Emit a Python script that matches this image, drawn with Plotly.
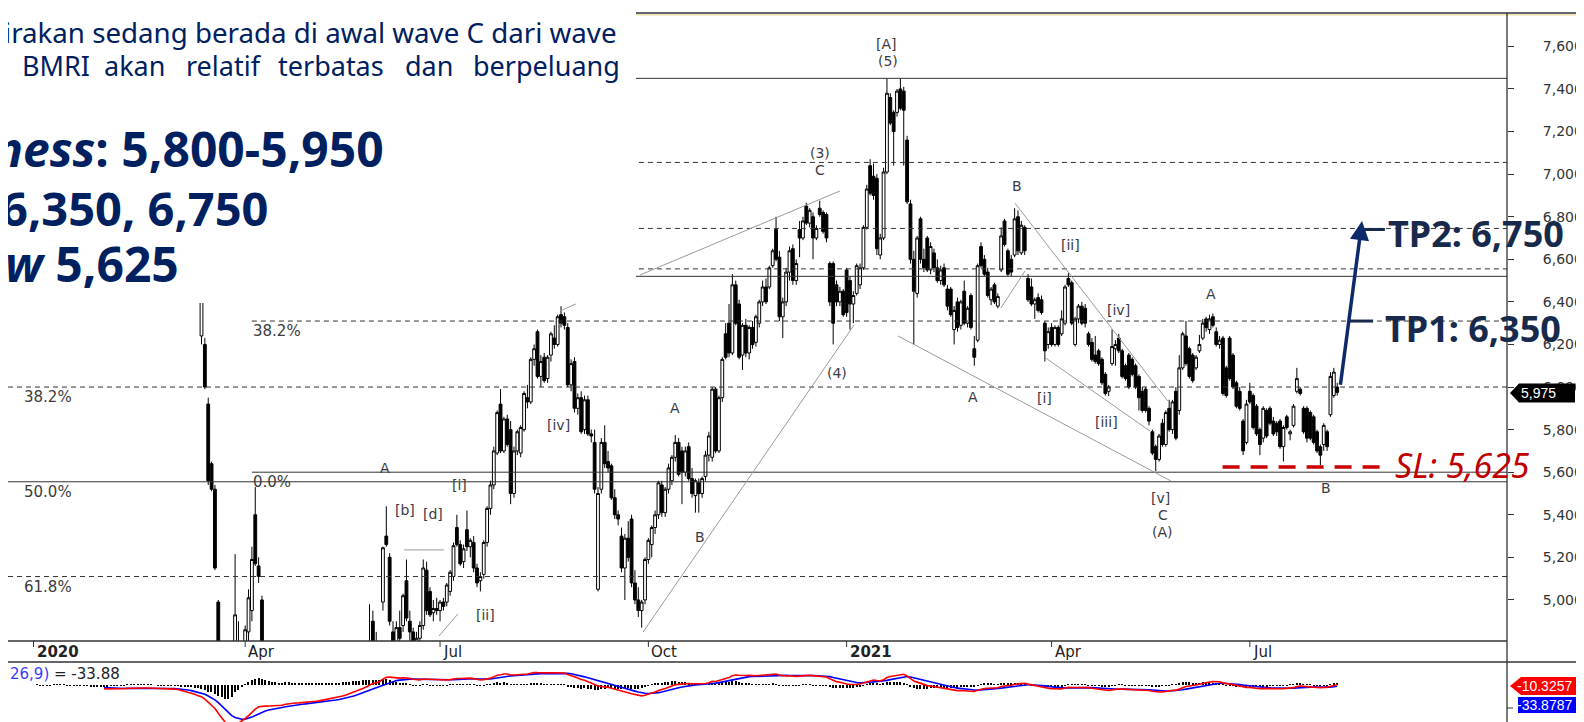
import plotly.graph_objects as go
import pandas as pd

# ---------------- DATA: BMRI daily bars (open, high, low, close), one list per month ----------------
jan_2020 = [(7675,7725,7650,7700),(7700,7750,7650,7725),(7725,7750,7625,7650),(7650,7700,7600,7675),
            (7675,7700,7625,7650),(7650,7725,7625,7700),(7700,7750,7675,7725),(7725,7775,7700,7750),
            (7750,7775,7675,7700),(7700,7725,7650,7675),(7675,7700,7600,7625),(7625,7675,7600,7650),
            (7650,7675,7575,7600),(7600,7625,7550,7575),(7575,7625,7550,7600),(7600,7600,7525,7550),
            (7550,7575,7475,7500),(7500,7525,7450,7475),(7475,7500,7425,7450),(7450,7475,7375,7400),
            (7400,7425,7350,7375)]
feb_2020 = [(7375,7425,7350,7375),(7375,7425,7350,7400),(7400,7450,7375,7425),(7425,7450,7375,7400),
            (7400,7425,7350,7375),(7375,7425,7350,7400),(7400,7475,7375,7450),(7450,7475,7400,7425),
            (7425,7450,7375,7400),(7400,7425,7350,7375),(7375,7400,7325,7350),(7350,7400,7325,7375),
            (7375,7425,7350,7400),(7400,7425,7325,7350),(7350,7375,7300,7325),(7325,7350,7275,7300),
            (7300,7325,7225,7250),(7250,7300,7225,7275),(7275,7300,7225,7250),(7250,7275,7200,7225)]
mar_2020 = [(7225,7250,7125,7150),(7150,7225,7125,7200),(7200,7225,7075,7100),(7100,7125,6925,6950),
            (6950,6975,6875,6900),(6900,6925,6775,6800),(6800,6825,6675,6700),(6700,6725,6575,6600),
            (6600,6625,6425,6450),(6240,6460,6200,6420),(6200,6230,5990,6000),(5920,5950,5540,5560),
            (5640,5650,5510,5520),(5520,5540,5140,5150),(4990,5000,4500,4550),(4500,4550,4150,4200),
            (4200,4300,3800,3850),(3900,4100,3700,3720),(3750,4000,3650,3950),(4200,5215,4150,4930),
            (4800,4900,4500,4600),(4550,4700,4450,4650)]
apr_2020 = [(4600,4880,4550,4860),(4850,5050,4800,5010),(4950,5250,4900,5190),(5400,5530,5160,5170),
            (5160,5200,5080,5110),(5000,5020,4700,4750),(4700,4750,4500,4550),(4550,4600,4450,4500),
            (4500,4575,4400,4450),(4450,4500,4350,4400),(4400,4450,4300,4350),(4350,4450,4325,4420),
            (4420,4500,4400,4480),(4480,4500,4375,4400),(4400,4425,4275,4300),(4300,4325,4225,4250),
            (4250,4275,4175,4200),(4200,4225,4125,4150),(4150,4175,4075,4100),(4100,4150,4050,4125)]
may_2020 = [(4125,4150,4075,4100),(4100,4125,4050,4075),(4075,4100,4025,4050),(4050,4125,4025,4100),
            (4100,4125,4050,4075),(4075,4100,4000,4025),(4025,4050,3975,4000),(4000,4075,3975,4050),
            (4050,4125,4025,4100),(4100,4175,4075,4150),(4150,4225,4125,4200),(4200,4275,4175,4250),
            (4250,4325,4225,4300),(4300,4400,4275,4375),(4375,4450,4350,4425),(4425,4525,4400,4500),
            (4500,4625,4475,4600)]
jun_2020 = [(4650,4980,4600,4750),(4900,4950,4700,4780),(4780,4850,4650,4700),(4700,4800,4600,4780),
            (4990,5250,4950,5245),(5300,5440,5250,5260),(5200,5220,4880,4900),(4850,4900,4750,4800),
            (4760,4900,4700,4870),(4870,4950,4780,4820),(4880,5030,4850,5020),(5090,5190,4900,4915),
            (4900,4950,4800,4850),(4850,4870,4700,4750),(4750,4850,4700,4820),(4820,4900,4780,4880),
            (4880,5190,4860,5150),(5140,5180,4930,4950),(5040,5060,4920,4930),(4940,5000,4900,4960),
            (4960,5010,4930,4950)]
jul_2020 = [(4950,5000,4900,4990),(4990,5010,4950,4970),(4990,5080,4970,5070),(5040,5140,5020,5130),
            (5110,5270,5090,5255),(5340,5400,5250,5260),(5260,5280,5160,5170),(5180,5260,5150,5240),
            (5330,5420,5230,5250),(5250,5290,5200,5280),(5270,5300,5130,5150),(5150,5170,5060,5080),
            (5090,5130,5040,5110),(5120,5280,5100,5270),(5270,5440,5250,5430),(5430,5560,5400,5540),
            (5540,5720,5520,5700),(5690,5890,5680,5880),(5920,5990,5690,5700),(5700,5860,5690,5850),
            (5850,5870,5720,5730),(5800,5840,5450,5500)]
aug_2020 = [(5500,5720,5480,5700),(5700,5800,5680,5790),(5690,5820,5670,5810),(5800,5980,5790,5970),
            (5950,6010,5900,5930),(5930,6140,5920,6130),(6130,6200,6100,6180),(6260,6270,6040,6050),
            (6050,6150,6000,6120),(6140,6160,6020,6030),(6040,6150,6020,6140),(6150,6260,6120,6250),
            (6230,6290,6180,6200),(6200,6340,6190,6330),(6340,6380,6280,6300),(6330,6350,6270,6290),
            (6280,6300,6000,6010),(6010,6130,5980,6110),(6120,6140,5880,5900)]
sep_2020 = [(5900,5970,5870,5950),(5950,5980,5780,5790),(5800,5960,5780,5940),(5940,5960,5770,5780),
            (5780,5800,5740,5770),(5740,5800,5500,5520),(5050,5530,5040,5500),(5520,5760,5500,5740),
            (5740,5820,5620,5640),(5650,5700,5600,5620),(5630,5640,5470,5480),(5480,5520,5380,5400),
            (5400,5420,5350,5380),(5300,5340,5130,5150),(5150,5310,5000,5290),(5290,5370,5180,5200),
            (5380,5400,5060,5080),(5080,5140,4980,5000),(5000,5060,4920,4950),(4950,5000,4870,4990),
            (5000,5200,4980,5190)]
oct_2020 = [(5190,5290,5170,5280),(5260,5350,5200,5340),(5340,5420,5310,5400),(5400,5560,5380,5550),
            (5540,5560,5390,5410),(5410,5530,5390,5520),(5520,5640,5500,5620),(5560,5680,5540,5670),
            (5670,5775,5650,5740),(5740,5760,5580,5590),(5700,5720,5450,5600),(5600,5720,5580,5700),
            (5720,5740,5560,5570),(5570,5620,5480,5500),(5490,5570,5410,5560),(5550,5570,5410,5500),
            (5500,5580,5480,5570),(5580,5700,5560,5680),(5680,5790,5650,5770),(5670,6000,5650,5990),
            (5990,6000,5690,5700)]
nov_2020 = [(5700,5960,5690,5950),(5950,6140,5930,6130),(6250,6300,6130,6140),(6300,6390,6140,6160),
            (6160,6530,6150,6480),(6480,6500,6290,6300),(6390,6410,6130,6140),(6150,6300,6080,6290),
            (6290,6320,6140,6160),(6160,6290,6130,6280),(6280,6310,6180,6200),(6210,6340,6190,6330),
            (6300,6410,6280,6400),(6400,6500,6380,6470),(6470,6510,6390,6400),(6470,6570,6460,6560),
            (6570,6650,6560,6640),(6740,6800,6590,6600),(6610,6640,6310,6330),(6330,6420,6230,6400),
            (6400,6560,6380,6540)]
dec_2020 = [(6540,6660,6500,6640),(6650,6670,6480,6500),(6500,6600,6480,6580),(6740,6780,6610,6700),
            (6700,6800,6690,6780),(6850,6865,6760,6770),(6770,6840,6750,6830),(6800,6820,6600,6700),
            (6700,6760,6690,6745),(6840,6875,6800,6810),(6820,6830,6720,6730),(6810,6820,6680,6700),
            (6580,6590,6380,6400),(6580,6590,6200,6300),(6480,6500,6380,6400),(6400,6470,6380,6450),
            (6450,6460,6330,6340)]
jan_2021 = [(6550,6560,6330,6350),(6500,6520,6270,6390),(6390,6450,6300,6430),(6440,6580,6430,6570),
            (6480,6580,6460,6560),(6560,6760,6550,6750),(6750,6950,6740,6930),(7040,7070,6900,6910),
            (6990,7050,6880,6900),(6980,7000,6620,6650),(6620,6720,6600,6700),(6700,7030,6690,7010),
            (7010,7450,7000,7380),(7360,7380,7230,7240),(7290,7300,7040,7200),(7290,7400,7270,7390),
            (7400,7450,7300,7310),(7390,7410,7040,7300),(7160,7180,6860,6870),(6860,6880,6580,6600)]
feb_2021 = [(6600,6640,6200,6450),(6440,6710,6420,6700),(6790,6800,6580,6600),(6600,6650,6540,6560),
            (6700,6710,6540,6550),(6550,6680,6530,6660),(6630,6650,6540,6560),(6560,6600,6490,6500),
            (6500,6570,6480,6550),(6560,6580,6470,6480),(6460,6480,6360,6380),(6460,6470,6330,6340),
            (6270,6380,6200,6360),(6400,6420,6260,6280),(6290,6410,6270,6400),(6450,6500,6290,6300),
            (6300,6380,6280,6370),(6430,6440,6270,6280),(6180,6240,6100,6140)]
mar_2021 = [(6220,6580,6210,6570),(6660,6680,6560,6570),(6600,6620,6520,6530),(6540,6560,6420,6430),
            (6410,6470,6385,6460),(6480,6490,6390,6400),(6380,6440,6370,6425),(6550,6750,6540,6710),
            (6780,6790,6660,6670),(6640,6650,6520,6530),(6600,6620,6520,6540),(6620,6840,6610,6790),
            (6800,6830,6620,6640),(6630,6780,6620,6760),(6750,6760,6620,6640),(6510,6530,6400,6410),
            (6470,6510,6380,6390),(6390,6420,6320,6410),(6420,6440,6350,6360),(6410,6430,6340,6350),
            (6300,6310,6120,6170),(6200,6280,6180,6260)]
apr_2021 = [(6280,6300,6190,6200),(6200,6290,6190,6280),(6280,6290,6190,6200),(6250,6360,6240,6320),
            (6300,6480,6290,6470),(6510,6535,6470,6480),(6490,6500,6290,6300),(6200,6330,6190,6320),
            (6320,6390,6300,6380),(6380,6400,6290,6300),(6370,6390,6280,6300),(6250,6260,6190,6200),
            (6210,6230,6120,6130),(6150,6240,6110,6120),(6170,6180,6100,6110),(6130,6140,6010,6020),
            (6060,6070,5960,5970),(5980,6010,5958,6000),(6110,6270,6100,6190),(6180,6220,6100,6200),
            (6230,6250,6160,6170)]
may_2021 = [(6170,6180,6040,6050),(6100,6110,6030,6040),(6150,6160,5990,6000),(6130,6140,6050,6060),
            (6100,6110,5990,6000),(6050,6060,5890,5950),(5980,6000,5880,5890),(5990,6000,5880,5890),
            (5900,5910,5820,5840),(5790,5800,5680,5690),(5720,5730,5605,5660),(5660,5780,5650,5770),
            (5830,5850,5720,5730),(5730,5890,5720,5880),(5900,5940,5790,5800),(5800,5940,5780,5930),
            (5980,6000,5750,5760)]
jun_2021 = [(5890,6150,5870,6090),(6090,6260,6080,6250),(6240,6310,6100,6110),(6180,6190,6040,6050),
            (6150,6160,6020,6030),(6090,6150,6080,6140),(6170,6245,6160,6200),(6230,6320,6220,6300),
            (6320,6330,6260,6280),(6270,6340,6250,6320),(6330,6345,6280,6290),(6260,6280,6190,6200),
            (6200,6240,6180,6220),(6230,6240,5960,5970),(6090,6100,5950,5960),(6230,6240,6030,6040),
            (6150,6160,5990,6000),(6020,6030,5900,5910),(5980,6000,5890,5900),(5840,5850,5680,5700),
            (5740,5940,5730,5920)]
jul_2021 = [(5980,6020,5920,5930),(5960,5970,5800,5810),(5910,5920,5770,5780),(5800,5810,5680,5730),
            (5760,5910,5740,5900),(5890,5900,5760,5770),(5900,5910,5820,5830),(5840,5860,5770,5780),
            (5830,5840,5770,5790),(5840,5850,5710,5720),(5720,5820,5650,5810),(5860,5870,5800,5810),
            (5780,5800,5750,5790),(5820,5920,5810,5910),(5980,6090,5970,6040),(5990,6000,5960,5970),
            (5900,5910,5780,5790),(5900,5910,5740,5760),(5880,5890,5750,5760),(5860,5870,5730,5740),
            (5790,5800,5690,5700)]
aug_2021 = [(5720,5730,5633,5680),(5730,5830,5700,5820),(5790,5800,5700,5720),(5870,6070,5860,6050),
            (5960,6090,5950,6070),(6000,6020,5960,5975)]

monthly_bars = [jan_2020, feb_2020, mar_2020, apr_2020, may_2020, jun_2020, jul_2020, aug_2020,
                sep_2020, oct_2020, nov_2020, dec_2020, jan_2021, feb_2021, mar_2021, apr_2021,
                may_2021, jun_2021, jul_2021, aug_2021]
tick_labels = ["2020", "Apr", "Jul", "Oct", "2021", "Apr", "Jul"]
tick_months = [0, 3, 6, 9, 12, 15, 18]          # month numbers (in monthly_bars) that get a date tick

# Fibonacci / horizontal levels
fib_anchor_levels = [7450, 7055, 6745, 6555, 6520, 6310, 5600]   # drawn from the Apr-2020 high
fib_left_levels = [6000, 5555, 5110]                             # drawn across the whole chart
solid_levels = [7450, 6520, 5600, 5555]
fib_anchor_labels = {6310: "38.2%", 5600: "0.0%"}
fib_left_labels = {6000: "38.2%", 5555: "50.0%", 5110: "61.8%"}
fib_anchor_bar = 65

# Elliott-wave labels: (text, bar index, price)
wave_labels = [("[A]", 254.0, 7611), ("(5)", 254.3, 7531), ("(3)", 234.1, 7099), ("C", 234.1, 7019),
               ("B", 292.7, 6944), ("[ii]", 308.5, 6667), ("[iv]", 322.8, 6362), ("A", 350.4, 6437),
               ("(4)", 239.1, 6066), ("A", 279.6, 5953), ("[i]", 301.0, 5949), ("[iii]", 319.2, 5836),
               ("[v]", 335.5, 5479), ("C", 336.1, 5400), ("(A)", 336.1, 5320), ("B", 384.7, 5526),
               ("A", 190.9, 5902), ("B", 198.4, 5296), ("[iv]", 156.1, 5822), ("A", 104.6, 5620),
               ("[i]", 126.9, 5540), ("[b]", 110.5, 5422), ("[d]", 118.9, 5404), ("[ii]", 134.4, 4929)]

# trend / channel lines: (bar0, price0, bar1, price1)
trend_lines = [(181.4, 4849, 244.2, 6291), (180.5, 6526, 240.0, 6921), (257.3, 6240, 338.5, 5559),
               (292.1, 6864, 337.6, 5934), (301.3, 6136, 332.3, 5793), (287.9, 6371, 295.1, 6545),
               (156.7, 6357, 161.4, 6390), (120.7, 4831, 126.3, 4934), (110.3, 5235, 122.2, 5235)]

tp1, tp2, stop_loss = 6350, 6750, 5625
tp1_mark, tp2_mark = 6310, 6740
arrow_from_price, arrow_to_price = 6004, 6780
last_price_tag = "5,975"
macd_tags = ["-10.3257", "-33.8787"]
macd_caption_value = "-33.88"

# ---------------- derived series ----------------
bars = [b for m in monthly_bars for b in m]
opens = [b[0] for b in bars]
highs = [b[1] for b in bars]
lows = [b[2] for b in bars]
closes = [b[3] for b in bars]
x_idx = list(range(len(bars)))
month_start = []
n = 0
for m in monthly_bars:
    month_start.append(n)
    n += len(m)
tick_pos = [month_start[k] for k in tick_months]

cl = pd.Series(closes, dtype=float)
ema12 = cl.ewm(span=12, adjust=False).mean()
ema26 = cl.ewm(span=26, adjust=False).mean()
macd = ema12 - ema26
signal = macd.ewm(span=9, adjust=False).mean()
hist = macd - signal
START = 21

# ---------------- geometry (pixels) ----------------
W, H = 1584, 722
AXIS_X = 1499
PRICE_TOP, PRICE_BOT, MACD_TOP = 5, 633, 654
BAR0_PX, BAR_PX = 25.5, 3.36
Y7600, PX_UNIT = 38.4, 4.697          # pixel row of 7,600 and price units per pixel

def fx(x):
    return x / AXIS_X

def fy(y):
    return 1 - y / H

x_range = [(0 - BAR0_PX) / BAR_PX, (AXIS_X - BAR0_PX) / BAR_PX]
y_range = [7600 - (PRICE_BOT - Y7600) * PX_UNIT, 7600 + (Y7600 - PRICE_TOP) * PX_UNIT]

mmin = float(min(macd[START:].min(), signal[START:].min()))
u = abs(mmin) / 43.0
zero_px = 677
y2_range = [-(H - zero_px) * u, (zero_px - MACD_TOP) * u]

NAVY = "#002060"
TPNAVY = "#172a4c"
LBL = "#3a3a44"
CHART_FONT = "DejaVu Sans"
TAG_FONT = "Liberation Sans"
TEXT_FONT = "Noto Sans"

fig = go.Figure()
fig.add_trace(go.Candlestick(
    x=x_idx, open=opens, high=highs, low=lows, close=closes,
    increasing=dict(line=dict(color="black", width=1), fillcolor="white"),
    decreasing=dict(line=dict(color="black", width=1), fillcolor="black"),
    whiskerwidth=0, showlegend=False, hoverinfo="skip"))

fig.add_trace(go.Bar(x=x_idx, y=list(hist), width=0.35, marker=dict(color="black", line=dict(width=0)),
                     xaxis="x2", yaxis="y2", showlegend=False, hoverinfo="skip"))
fig.add_trace(go.Scatter(x=x_idx[START:], y=list(signal[START:]), mode="lines",
                         line=dict(color="#0000ff", width=1.6), xaxis="x2", yaxis="y2",
                         showlegend=False, hoverinfo="skip"))
fig.add_trace(go.Scatter(x=x_idx[START:], y=list(macd[START:]), mode="lines",
                         line=dict(color="#ff0000", width=1.6), xaxis="x2", yaxis="y2",
                         showlegend=False, hoverinfo="skip"))

shapes = []
for lv in fib_anchor_levels + fib_left_levels:
    x0 = fib_anchor_bar if lv in fib_anchor_levels else x_range[0]
    dash = "solid" if lv in solid_levels else "5px,4px"
    shapes.append(dict(type="line", xref="x", yref="y", x0=x0, x1=x_range[1], y0=lv, y1=lv,
                       line=dict(color="#333333", width=1, dash=dash)))
for (a0, p0, a1, p1) in trend_lines:
    shapes.append(dict(type="line", xref="x", yref="y", x0=a0, y0=p0, x1=a1, y1=p1,
                       line=dict(color="#9a9a9a", width=1)))

# white text panel covering the top-left of the chart
shapes.append(dict(type="rect", xref="paper", yref="paper", x0=-0.01, x1=fx(628), y0=fy(295), y1=1.01,
                   fillcolor="white", line=dict(width=0), layer="above"))
# frame lines
shapes.append(dict(type="line", xref="paper", yref="paper", x0=fx(628), x1=fx(W), y0=fy(5), y1=fy(5),
                   line=dict(color="#2f3445", width=1.3)))
shapes.append(dict(type="line", xref="paper", yref="paper", x0=fx(628), x1=fx(W), y0=fy(6.8), y1=fy(6.8),
                   line=dict(color="#efe0a6", width=1.4)))
shapes.append(dict(type="line", xref="paper", yref="paper", x0=1, x1=1, y0=fy(5), y1=0,
                   line=dict(color="#222222", width=1.2)))
shapes.append(dict(type="line", xref="paper", yref="paper", x0=0, x1=1, y0=fy(PRICE_BOT), y1=fy(PRICE_BOT),
                   line=dict(color="#333333", width=1.3)))
shapes.append(dict(type="line", xref="paper", yref="paper", x0=0, x1=fx(W), y0=fy(MACD_TOP), y1=fy(MACD_TOP),
                   line=dict(color="#333333", width=1.3)))
shapes.append(dict(type="line", xref="paper", yref="paper", x0=1, x1=fx(AXIS_X + 6), y0=fy(700), y1=fy(700),
                   line=dict(color="#333333", width=1)))
for tp in tick_pos:
    shapes.append(dict(type="line", xref="x", yref="paper", x0=tp, x1=tp, y0=fy(PRICE_BOT), y1=fy(PRICE_BOT + 6),
                       line=dict(color="#333333", width=1)))

last = x_idx[-1]
# stop-loss dashed marker, TP markers
shapes.append(dict(type="line", xref="x", yref="y", x0=last - 34.1, x1=last + 12.7, y0=stop_loss, y1=stop_loss,
                   line=dict(color="#cc0000", width=3.5, dash="17px,11px")))
shapes.append(dict(type="line", xref="x", yref="y", x0=last + 7.1, x1=last + 14.2, y0=tp2_mark, y1=tp2_mark,
                   line=dict(color=TPNAVY, width=3)))
shapes.append(dict(type="line", xref="x", yref="y", x0=last + 3.8, x1=last + 10.7, y0=tp1_mark, y1=tp1_mark,
                   line=dict(color=TPNAVY, width=3)))

def poly(pts):
    return "M " + " L ".join(f"{fx(a):.5f},{fy(b):.5f}" for a, b in pts) + " Z"

shapes.append(dict(type="path", xref="paper", yref="paper",
                   path=poly([(1502, 385), (1511, 375.5), (1567, 375.5), (1567, 394.5), (1511, 394.5)]),
                   fillcolor="black", line=dict(width=0), layer="above"))
shapes.append(dict(type="path", xref="paper", yref="paper",
                   path=poly([(1502, 678), (1513, 669), (1584, 669), (1584, 687), (1513, 687)]),
                   fillcolor="#ff0000", line=dict(width=0), layer="above"))
shapes.append(dict(type="rect", xref="paper", yref="paper", x0=fx(1510), x1=fx(1584), y0=fy(705), y1=fy(689),
                   fillcolor="#0000ff", line=dict(width=0), layer="above"))

ann = []
def txt(text, x, y, size, color, family=TEXT_FONT, xanchor="left", **kw):
    d = dict(text=text, x=x, y=y, xref=kw.pop("xref", "paper"), yref=kw.pop("yref", "paper"),
             xanchor=xanchor, yanchor="middle", showarrow=False,
             font=dict(family=family, size=size, color=color))
    d.update(kw)
    ann.append(d)

# top-left commentary
txt("irakan sedang berada di awal wave C dari wave", fx(611), fy(24), 27.7, NAVY, xanchor="right")
for word, xpx in [("BMRI", 12), ("akan", 94), ("relatif", 176), ("terbatas", 268), ("dan", 395), ("berpeluang", 463)]:
    txt(word, fx(xpx), fy(57.5), 27, NAVY)
txt("<b><i>ness</i>: 5,800-5,950</b>", fx(378), fy(140), 48, NAVY, xanchor="right")
txt(f"<b>{tp1:,}, {tp2:,}</b>", fx(262), fy(200), 47, NAVY, xanchor="right")
txt(f"<b><i>w</i> {stop_loss:,}</b>", fx(173), fy(256), 48, NAVY, xanchor="right")

# TP / SL texts
txt(f"<b>TP2: {tp2:,}</b>", fx(1378), fy(225), 36, TPNAVY)
txt(f"<b>TP1: {tp1:,}</b>", fx(1375), fy(320), 36, TPNAVY)
txt(f"<i>SL: {stop_loss:,}</i>", fx(1385), fy(457), 34, "#c00000")

# fib labels
for lv, t in fib_left_labels.items():
    txt(t, fx(14), lv, 15, "#3c3c3c", family=CHART_FONT, yref="y", yshift=-10)
for lv, t in fib_anchor_labels.items():
    txt(t, fib_anchor_bar, lv, 15, "#3c3c3c", family=CHART_FONT, xref="x", yref="y", yshift=-10, xshift=-1)

# wave labels
for t, bi, pr in wave_labels:
    txt(t, bi, pr, 14, LBL, family=CHART_FONT, xanchor="center", xref="x", yref="y")

# date labels
for lab, tp in zip(tick_labels, tick_pos):
    s = f"<b>{lab}</b>" if lab.isdigit() else lab
    txt(s, tp, fy(644), 15, "#222222", family=CHART_FONT, xref="x", xshift=1)

# MACD caption and tags
txt(f"<span style='color:#3a3aff'>26,9)</span> = {macd_caption_value}", fx(0), fy(666), 15, "#222222", family=CHART_FONT)
txt(last_price_tag, fx(1530), fy(385), 14, "white", family=TAG_FONT, xanchor="center")
txt(macd_tags[0], fx(1536), fy(678), 14, "white", family=TAG_FONT, xanchor="center")
txt(macd_tags[1], fx(1536), fy(697), 14, "white", family=TAG_FONT, xanchor="center")

# projection arrow
ann.append(dict(x=last + 7.4, y=arrow_to_price, ax=last + 0.9, ay=arrow_from_price,
                xref="x", yref="y", axref="x", ayref="y", text="", showarrow=True,
                arrowhead=2, arrowsize=1.1, arrowwidth=3.5, arrowcolor="#0d2a6b", standoff=0))

fig.update_layout(
    width=W, height=H, margin=dict(l=0, r=W - AXIS_X, t=0, b=0),
    plot_bgcolor="white", paper_bgcolor="white", showlegend=False, boxgap=0.12, boxgroupgap=0.05,
    xaxis=dict(range=x_range, domain=[0, 1], showgrid=False, zeroline=False, showticklabels=False,
               ticks="", showline=False, rangeslider=dict(visible=False), anchor="y"),
    yaxis=dict(domain=[fy(PRICE_BOT), fy(PRICE_TOP)], range=y_range, side="right", showgrid=False,
               zeroline=False, tickvals=list(range(5000, 7601, 200)), tickformat=",", ticks="outside",
               ticklen=6, tickcolor="#333333", ticklabelstandoff=26,
               tickfont=dict(family=CHART_FONT, size=14, color="#333333"), showline=False, anchor="x"),
    xaxis2=dict(range=x_range, domain=[0, 1], matches="x", showgrid=False, zeroline=False,
                showticklabels=False, anchor="y2"),
    yaxis2=dict(domain=[0, fy(MACD_TOP)], range=y2_range, showgrid=False, zeroline=False,
                showticklabels=False, side="right", anchor="x2"),
    shapes=shapes, annotations=ann, bargap=0)

fig.write_html("out.html")
